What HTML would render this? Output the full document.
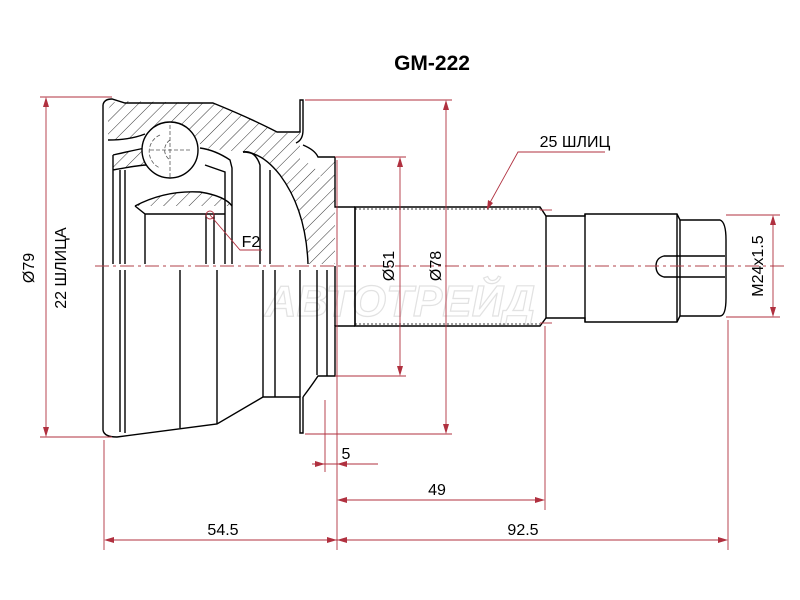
<!DOCTYPE html>
<html><head><style>
html,body{margin:0;padding:0;background:#fff;}
svg{display:block;}
text{font-family:"Liberation Sans",sans-serif;}
</style></head><body>
<svg width="800" height="600" viewBox="0 0 800 600" xmlns="http://www.w3.org/2000/svg">
<defs>
<pattern id="h" patternUnits="userSpaceOnUse" width="9" height="9" patternTransform="rotate(45)">
<line x1="0" y1="0" x2="0" y2="9" stroke="#000" stroke-width="0.8"/>
</pattern>
</defs>
<rect width="800" height="600" fill="#fff"/>
<text x="432" y="70" font-size="21" font-weight="bold" text-anchor="middle">GM-222</text>

<!-- watermark -->
<text x="400" y="316" font-size="44" font-style="italic" font-weight="bold" text-anchor="middle" fill="none" stroke="#e2e2e2" stroke-width="1.2" font-family="Liberation Sans, DejaVu Sans, sans-serif">АВТОТРЕЙД</text>

<!-- hatched section upper -->
<path d="M108,110 Q112,100 122,101 L213,103 Q250,118 277,133 L300,133 L300,160 Q318,165 320,180 Q322,158 335,157 L335,264 L308,264 Q306,210 280,175 Q262,152 243,152 Q220,150 205,148 Q180,125 140,135 Q115,142 108,140 Z" fill="url(#h)" stroke="none"/>
<!-- inner race hatched -->
<path d="M135,206 Q165,190 200,192 Q225,196 232,206 Z" fill="url(#h)"/>
<path d="M113,155 Q140,148 145,148 L146,165 Q125,168 113,170 Z" fill="url(#h)"/>

<g fill="none" stroke="#000" stroke-width="1.4">
<!-- outer housing outline -->
<path d="M103,105 Q104,99 112,99 L125,103 L213,103 Q250,118 277,132 L300,132 L300,100 L303,100 L303,130 Q303,140 296,143"/>
<path d="M303,145 Q315,150 318,157 L335,157"/>
<path d="M335,157 L335,207 Q340,207 355,207"/>
<path d="M103,105 L103,430 Q104,437 117,437 L217,424 L263,397 L300,397 L300,433 L303,433 L303,397"/>
<path d="M303,397 Q312,385 318,376 L335,376 L335,326 Q340,326 355,326"/>
<!-- lower body vertical lines -->
<path d="M120,270 L120,432 M125,270 L125,433 M180,270 L180,428 M217,270 L217,424 M263,270 L263,397 M275,270 L275,397 M300,270 L300,397 M317,270 L317,375 M327,270 L327,376 M335,266 L335,326"/>
<!-- upper inner lines -->
<path d="M108,140 Q130,140 145,134"/>
<path d="M113,155 L113,264 M120,170 L120,264 M125,170 L125,264 M113,170 Q140,165 147,165"/>
<path d="M113,155 Q135,150 145,148"/>
<path d="M200,148 Q215,150 230,160 L232,168 L232,264"/>
<path d="M205,165 L225,172 L225,264"/>
<path d="M135,206 Q165,190 200,192 Q225,196 232,206"/>
<path d="M135,206 L145,214 L145,264 M145,214 L225,214"/>
<path d="M243,152 Q255,150 260,165 L260,264"/>
<path d="M270,170 L270,264"/>
<path d="M243,152 Q262,152 280,175 Q306,210 308,264"/>
<path d="M206,214 L206,264 M214,214 L214,264"/>
<circle cx="170" cy="150" r="28" fill="#fff"/>
<!-- shaft -->
<path d="M355,207 L540,207 L546,216 L585,216 L585,214 L677,214 L680,220 L720,220 Q726,222 726,240 L726,298 Q726,316 720,316 L680,316 L677,322 L585,322 L585,318 L546,318 L540,326 L355,326 Z"/>
<path d="M355,207 L355,326 M585,214 L585,322 M677,214 L677,322 M680,220 L680,316 M546,216 L546,318"/>
<path d="M725,256 L664,256 Q656,258 656,266 Q656,275 664,277 L725,277"/>
</g>
<!-- ball details -->
<g fill="none" stroke="#555" stroke-width="0.8" stroke-dasharray="4,2">
<path d="M160,135 A18,18 0 0 0 160,168"/>
<path d="M170,140 A12,12 0 0 0 170,160"/>
<path d="M150,150 L190,150 M170,125 L170,178"/>
</g>
<g stroke="#000" stroke-width="0.7" stroke-dasharray="2,2">
<line x1="355" y1="209" x2="540" y2="209"/><line x1="355" y1="324" x2="540" y2="324"/>
</g>
<!-- centerline -->
<line x1="95" y1="266" x2="785" y2="266" stroke="#b0404a" stroke-width="0.9" stroke-dasharray="14,4,3,4"/>

<!-- dimensions red -->
<g stroke="#b0303f" stroke-width="0.9" fill="none">
<line x1="40" y1="97" x2="112" y2="97"/><line x1="40" y1="437" x2="112" y2="437"/>
<line x1="46" y1="100" x2="46" y2="434"/>
<line x1="305" y1="100" x2="452" y2="100"/><line x1="305" y1="434" x2="452" y2="434"/>
<line x1="446" y1="103" x2="446" y2="431"/>
<line x1="335" y1="157" x2="406" y2="157"/><line x1="335" y1="376" x2="406" y2="376"/>
<line x1="400" y1="160" x2="400" y2="373"/>
<line x1="540" y1="210" x2="552" y2="210"/><line x1="540" y1="323" x2="552" y2="323"/>
<line x1="726" y1="215" x2="780" y2="215"/><line x1="726" y1="317" x2="780" y2="317"/>
<line x1="773" y1="218" x2="773" y2="314"/>
<line x1="104" y1="440" x2="104" y2="550"/>
<line x1="337" y1="160" x2="337" y2="550"/>
<line x1="325" y1="400" x2="325" y2="472"/>
<line x1="545" y1="326" x2="545" y2="510"/>
<line x1="728" y1="320" x2="728" y2="550"/>
<line x1="312" y1="464" x2="378" y2="464"/>
<line x1="340" y1="500" x2="542" y2="500"/>
<line x1="107" y1="540" x2="725" y2="540"/>
<path d="M605,152 L518,152 L487,208"/>
<path d="M210,215 L240,250 L262,250"/>
<circle cx="210" cy="215" r="4"/>
</g>
<g fill="#b0303f">
<path d="M46,97 l-3,10 h6z"/><path d="M46,437 l-3,-10 h6z"/>
<path d="M446,100 l-3,10 h6z"/><path d="M446,434 l-3,-10 h6z"/>
<path d="M400,157 l-3,10 h6z"/><path d="M400,376 l-3,-10 h6z"/>
<path d="M773,215 l-3,10 h6z"/><path d="M773,317 l-3,-10 h6z"/>
<path d="M325,464 l-10,-3 v6z"/><path d="M337,464 l10,-3 v6z"/>
<path d="M337,500 l10,-3 v6z"/><path d="M545,500 l-10,-3 v6z"/>
<path d="M104,540 l10,-3 v6z"/><path d="M337,540 l-10,-3 v6z"/><path d="M337,540 l10,-3 v6z"/><path d="M728,540 l-10,-3 v6z"/>
<path d="M487,210 l1,-10 l5,3z"/>
</g>
<g font-size="16" fill="#000">
<text x="34" y="268" transform="rotate(-90 34 268)" text-anchor="middle">Ø79</text>
<text x="66" y="268" transform="rotate(-90 66 268)" text-anchor="middle">22 ШЛИЦА</text>
<text x="394" y="266" transform="rotate(-90 394 266)" text-anchor="middle">Ø51</text>
<text x="441" y="266" transform="rotate(-90 441 266)" text-anchor="middle">Ø78</text>
<text x="763" y="266" transform="rotate(-90 763 266)" text-anchor="middle">M24x1.5</text>
<text x="575" y="147" text-anchor="middle">25 ШЛИЦ</text>
<text x="251" y="247" text-anchor="middle">F2</text>
<text x="346" y="459" text-anchor="middle">5</text>
<text x="437" y="495" text-anchor="middle">49</text>
<text x="223" y="535" text-anchor="middle">54.5</text>
<text x="523" y="535" text-anchor="middle">92.5</text>
</g>
</svg>
</body></html>
